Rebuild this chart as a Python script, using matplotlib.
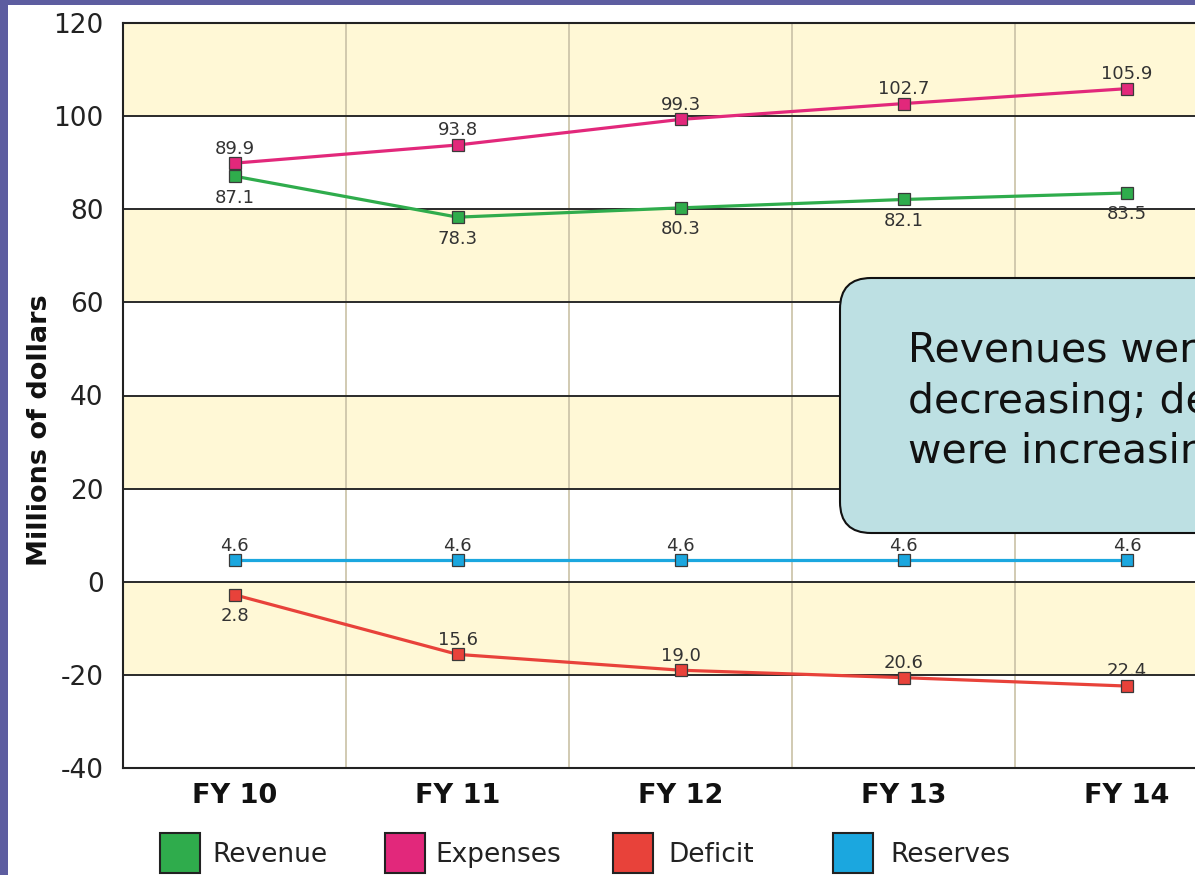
import matplotlib
matplotlib.use('Agg')
import matplotlib.pyplot as plt
from matplotlib.patches import Rectangle, FancyBboxPatch

# ---- data ----
categories = ['FY 10', 'FY 11', 'FY 12', 'FY 13', 'FY 14']
revenue = [87.1, 78.3, 80.3, 82.1, 83.5]
expenses = [89.9, 93.8, 99.3, 102.7, 105.9]
deficit = [-2.8, -15.6, -19.0, -20.6, -22.4]
reserves = [4.6, 4.6, 4.6, 4.6, 4.6]
y_ticks = [-40, -20, 0, 20, 40, 60, 80, 100, 120]
legend_names = ['Revenue', 'Expenses', 'Deficit', 'Reserves']
note_lines = ['Revenues were', 'decreasing; deficits', 'were increasing']

# ---- styles ----
C_REV = '#2fac4c'
C_EXP = '#e2287b'
C_DEF = '#e8423a'
C_RES = '#1ba7df'
YELLOW = '#fff8d6'
W, H = 1195, 875

fig = plt.figure(figsize=(W / 100, H / 100), dpi=100)
fig.patch.set_facecolor('white')

ax = fig.add_axes([123 / W, 1 - 768 / H, (1238.5 - 123) / W, 745 / H])
x = list(range(len(categories)))
ax.set_xlim(-0.5, len(categories) - 0.5)
ax.set_ylim(y_ticks[0], y_ticks[-1])

# alternating bands (yellow from top)
for i in range(len(y_ticks) - 1, 0, -2):
    ax.axhspan(y_ticks[i - 1], y_ticks[i], color=YELLOW, zorder=0, lw=0)

ax.set_yticks(y_ticks)
ax.set_yticklabels([str(t) for t in y_ticks])
ax.set_xticks(x)
ax.set_xticklabels(categories)
ax.set_xticks([i + 0.5 for i in x[:-1]], minor=True)
ax.set_axisbelow(True)
ax.yaxis.grid(True, which='major', color='#2a2a2a', lw=1.4)
ax.xaxis.grid(True, which='minor', color='#c9c1a6', lw=1.2)
ax.xaxis.grid(False, which='major')
ax.tick_params(which='both', length=0)
ax.tick_params(axis='y', labelsize=19, pad=14, labelcolor='#222222')
ax.tick_params(axis='x', labelsize=19.5, pad=11, labelcolor='#111111')
for lab in ax.get_xticklabels():
    lab.set_fontweight('bold')
for sp in ax.spines.values():
    sp.set_color('#222222')
    sp.set_linewidth(1.5)

series = [
    (revenue, C_REV, ['below'] * 5),
    (expenses, C_EXP, ['above'] * 5),
    (deficit, C_DEF, ['below'] + ['above'] * 4),
    (reserves, C_RES, ['above'] * 5),
]
for vals, col, pos in series:
    ax.plot(x, vals, color=col, lw=2.3, marker='s', ms=8, mfc=col,
            mec='#3a3a3a', mew=0.9, zorder=3, solid_capstyle='round')
    for xi, v, p in zip(x, vals, pos):
        if p == 'above':
            ax.annotate(f"{abs(v):.1f}", (xi, v), xytext=(0, 4),
                        textcoords='offset points', ha='center', va='bottom',
                        fontsize=13, color='#333333', zorder=4)
        else:
            ax.annotate(f"{abs(v):.1f}", (xi, v), xytext=(0, -9),
                        textcoords='offset points', ha='center', va='top',
                        fontsize=13, color='#333333', zorder=4)

# y label
fig.text(40 / W, 1 - 430 / H, 'Millions of dollars', rotation=90,
         fontsize=19.5, fontweight='bold', ha='center', va='center',
         color='#111111')

# legend (manual placement)
leg_sq_x = [160, 385, 613, 833]
leg_tx_x = [212, 435, 668, 890]
for name, col, sx, tx in zip(legend_names, [C_REV, C_EXP, C_DEF, C_RES],
                             leg_sq_x, leg_tx_x):
    fig.add_artist(Rectangle((sx / W, 1 - 873 / H), 40 / W, 40 / H,
                             transform=fig.transFigure, fc=col,
                             ec='#222222', lw=1.5))
    fig.text(tx / W, 1 - 855 / H, name, fontsize=19, ha='left',
             va='center', color='#222222')

# purple frame strips
fig.add_artist(Rectangle((0, 0), 8 / W, 1, transform=fig.transFigure,
                         fc='#5d5da0', ec='none', zorder=10))
fig.add_artist(Rectangle((0, 1 - 5 / H), 1, 5 / H, transform=fig.transFigure,
                         fc='#5d5da0', ec='none', zorder=10))

# callout box
box = FancyBboxPatch((840 / W, 1 - 533 / H), 0.5, 255 / H,
                     boxstyle='round,pad=0,rounding_size=0.026',
                     mutation_aspect=W / H, transform=fig.transFigure,
                     fc='#bde0e3', ec='#111111', lw=1.5, zorder=5)
fig.add_artist(box)
for line, by in zip(note_lines, [362, 413, 463]):
    fig.text(908 / W, 1 - by / H, line, fontsize=29.5, ha='left',
             va='baseline', color='#111111', zorder=6)

fig.savefig('out.png', dpi=100)
